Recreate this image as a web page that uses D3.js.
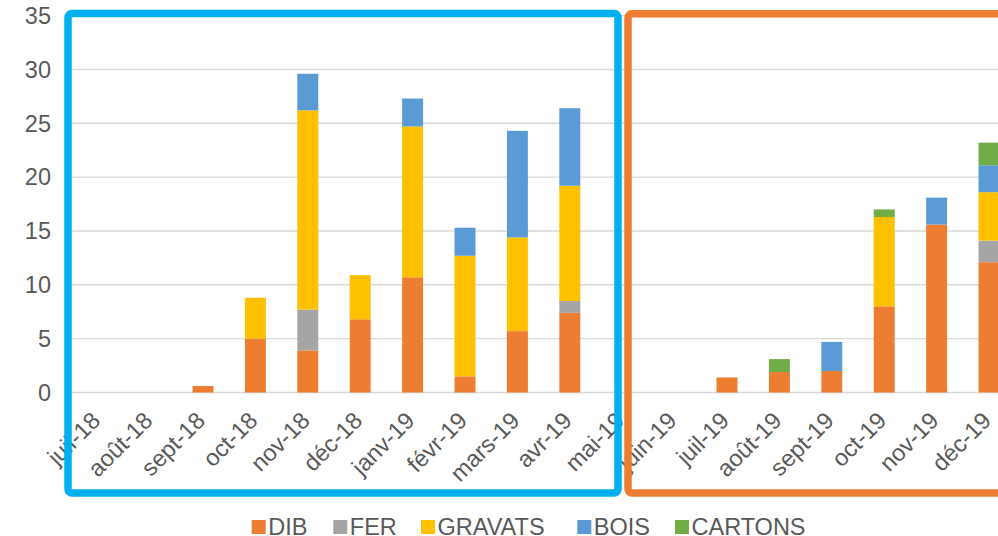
<!DOCTYPE html>
<html>
<head>
<meta charset="utf-8">
<script src="https://cdn.jsdelivr.net/npm/d3@7"></script>
<style>
  html, body { margin: 0; padding: 0; background: #fff; }
  svg { display: block; }
  text { font-family: "Liberation Sans", Arial, sans-serif; fill: #595959; }
</style>
</head>
<body>
<div id="chart"></div>
<script>
// Monthly waste volumes by type
const months = ["juil-18","août-18","sept-18","oct-18","nov-18","déc-18","janv-19","févr-19","mars-19","avr-19","mai-19",
                "juin-19","juil-19","août-19","sept-19","oct-19","nov-19","déc-19"];
const DIB      = [0, 0, 0.6, 5.0, 3.9, 6.8, 10.7, 1.5, 5.7, 7.4, 0, 0, 1.4, 1.9, 2.0, 8.0, 15.6, 12.1];
const FER      = [0, 0, 0,   0,   3.8, 0,   0,    0,   0,   1.1, 0, 0, 0,   0,   0,   0,   0,    2.0];
const GRAVATS  = [0, 0, 0,   3.8, 18.5,4.1, 14.0, 11.2,8.7, 10.7,0, 0, 0,   0,   0,   8.3, 0,    4.5];
const BOIS     = [0, 0, 0,   0,   3.4, 0,   2.6,  2.6, 9.9, 7.2, 0, 0, 0,   0,   2.7, 0,   2.5,  2.5];
const CARTONS  = [0, 0, 0,   0,   0,   0,   0,    0,   0,   0,   0, 0, 0,   1.2, 0,   0.7, 0,    2.1];
const seriesNames = ["DIB","FER","GRAVATS","BOIS","CARTONS"];
const seriesColors = ["#ED7D31","#A5A5A5","#FFC000","#5B9BD5","#70AD47"];
const yTicks = [0,5,10,15,20,25,30,35];

const W = 998, H = 536;
const FONT = 23.5;
const svg = d3.select("#chart").append("svg").attr("width", W).attr("height", H);

const rows = months.map((m, i) => ({
  month: m, DIB: DIB[i], FER: FER[i], GRAVATS: GRAVATS[i], BOIS: BOIS[i], CARTONS: CARTONS[i]
}));

// plot area runs past the right edge of the page
const x = d3.scaleBand().domain(months).range([72, 72 + 18 * 52.4]).paddingInner(0.6).paddingOuter(0.3);
const y = d3.scaleLinear().domain([0, 35]).range([392.5, 15.6]);

// gridlines
svg.append("g").selectAll("line").data(yTicks).join("line")
  .attr("x1", 72).attr("x2", W + 20)
  .attr("y1", d => y(d)).attr("y2", d => y(d))
  .attr("stroke", "#D9D9D9").attr("stroke-width", 1.4);

// y tick labels
svg.append("g").selectAll("text").data(yTicks).join("text")
  .attr("x", 51).attr("y", d => y(d)).attr("dy", "0.35em")
  .attr("text-anchor", "end").attr("font-size", FONT).text(d => d);

// stacked bars
const stack = d3.stack().keys(seriesNames)(rows);
const color = d3.scaleOrdinal().domain(seriesNames).range(seriesColors);
svg.append("g").selectAll("g").data(stack).join("g")
  .attr("fill", d => color(d.key))
  .selectAll("rect").data(d => d.filter(p => p[1] - p[0] > 0)).join("rect")
  .attr("x", d => x(d.data.month))
  .attr("width", x.bandwidth())
  .attr("y", d => y(d[1]))
  .attr("height", d => y(d[0]) - y(d[1]));

// month labels, rotated
svg.append("g").selectAll("text").data(months).join("text")
  .attr("text-anchor", "end").attr("font-size", FONT)
  .attr("transform", d => `translate(${x(d) + x.bandwidth() / 2 + 3.5},${422}) rotate(-45)`)
  .text(d => d);

// period frames
svg.append("rect").attr("x", 68).attr("y", 13.5).attr("width", 550).attr("height", 479.5)
  .attr("rx", 4).attr("fill", "none").attr("stroke", "#00B0F0").attr("stroke-width", 7.5);
svg.append("rect").attr("x", 628).attr("y", 13.7).attr("width", 420).attr("height", 479.3)
  .attr("rx", 4).attr("fill", "none").attr("stroke", "#ED7D31").attr("stroke-width", 7.5);

// legend
const legendX = [251.7, 333.3, 421, 577.3, 675];
const lg = svg.append("g").selectAll("g").data(seriesNames).join("g")
  .attr("transform", (d, i) => `translate(${legendX[i]},520)`);
lg.append("rect").attr("width", 14).attr("height", 14).attr("fill", d => color(d));
lg.append("text").attr("x", 16.5).attr("y", 14.5).attr("font-size", FONT).text(d => d);
</script>
</body>
</html>
